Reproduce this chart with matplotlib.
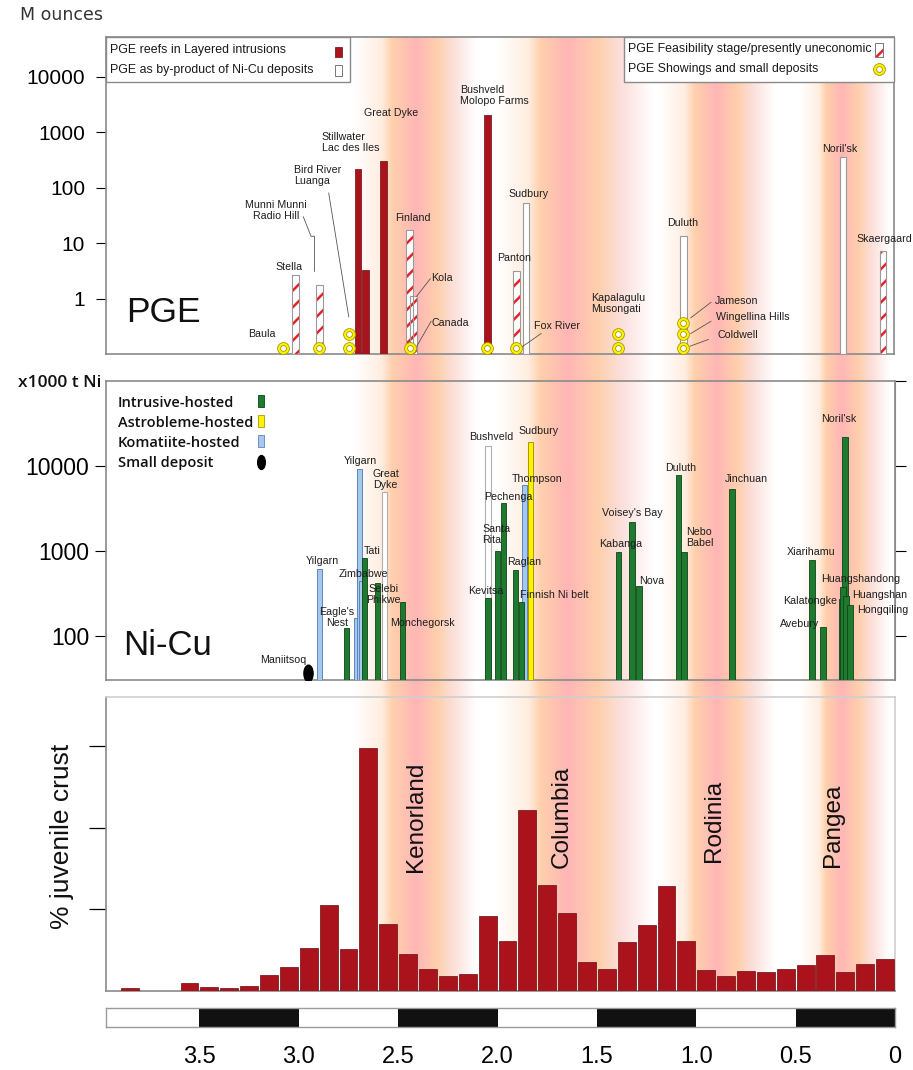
import numpy as np
import matplotlib
matplotlib.use('Agg')
import matplotlib.pyplot as plt
from matplotlib.patches import Rectangle
from matplotlib.lines import Line2D
from matplotlib.path import Path
from matplotlib.transforms import Affine2D

plt.rcParams['font.family'] = ['Liberation Sans', 'DejaVu Sans']
plt.rcParams['hatch.linewidth'] = 1.8

# ---------------- PGE resources, M ounces, age in Ga ----------------
reef_age = [2.700, 2.664, 2.571, 2.048]          # Stillwater, Lac des Iles, Great Dyke, Bushveld
reef_moz = [220, 3.3, 307, 2040]

byprod_age = [1.854, 1.062, 0.257]               # Sudbury, Duluth, Noril'sk
byprod_moz = [54, 13.3, 352]

feas_age = [3.017, 2.895, 2.442, 2.419, 1.903, 0.055]   # Stella, Munni Munni, Finland, Kola, Panton, Skaergaard
feas_moz = [2.7, 1.74, 17, 1.1, 3.1, 7.3]

# showings and small deposits (no tonnage) -> stacked rings
show_age = [3.077, 2.895, 2.747, 2.747, 2.439, 2.048, 1.904, 1.393, 1.393, 1.062, 1.062, 1.062]
show_rank = [0, 0, 0, 1, 0, 0, 0, 0, 1, 0, 1, 2]

pge_labels = [
    ('Baula', 3.113, 0.234, 'right'),
    ('Stella', 3.046, 3.73, 'center'),
    ('Munni Munni\nRadio Hill', 3.113, 39.3, 'center'),
    ('Bird River\nLuanga', 3.021, 164, 'left'),
    ('Stillwater\nLac des Iles', 2.882, 655, 'left'),
    ('Great Dyke', 2.669, 2245, 'left'),
    ('Finland', 2.425, 28, 'center'),
    ('Kola', 2.332, 2.39, 'left'),
    ('Canada', 2.331, 0.37, 'left'),
    ('Bushveld\nMolopo Farms', 2.187, 4585, 'left'),
    ('Panton', 2.0, 5.41, 'left'),
    ('Sudbury', 1.841, 78, 'center'),
    ('Fox River', 1.813, 0.326, 'left'),
    ('Kapalagulu\nMusongati', 1.527, 0.823, 'left'),
    ('Duluth', 1.065, 23.4, 'center'),
    ('Jameson', 0.901, 0.92, 'left'),
    ('Wingellina Hills', 0.895, 0.468, 'left'),
    ('Coldwell', 0.888, 0.216, 'left'),
    ("Noril'sk", 0.272, 498, 'center'),
    ('Skaergaard', 0.190, 11.9, 'left'),
]

pge_leaders = [
    ([2.976, 2.937, 2.920, 2.920], [30, 13.3, 13.3, 3.1]),
    ([2.848, 2.747], [80.3, 0.468]),
    ([2.405, 2.336], [1.1, 2.29]),
    ([2.408, 2.332], [0.131, 0.39]),
    ([1.888, 1.778], [0.124, 0.234]),
    ([1.024, 0.922], [0.449, 0.857]),
    ([1.024, 0.922], [0.234, 0.39]),
    ([1.028, 0.935], [0.138, 0.183]),
]

# ---------------- Ni-Cu resources, x1000 t Ni ----------------
intr_age = [2.759, 2.668, 2.604, 2.478, 2.048, 1.999, 1.969, 1.908, 1.878, 1.390, 1.324, 1.289,
            1.089, 1.062, 0.821, 0.418, 0.363, 0.252, 0.270, 0.262, 0.246, 0.227]
intr_kt = [123, 820, 416, 250, 277, 980, 3700, 590, 250, 960, 2180, 380,
           7900, 960, 5400, 770, 128, 22000, 270, 370, 290, 230]
komat_age = [2.895, 2.711, 2.693, 2.685, 1.863]
komat_kt = [609, 162, 9100, 436, 5900]
astro_age = [1.833]
astro_kt = [19000]
other_age = [2.570, 2.048]          # Great Dyke, Bushveld
other_kt = [4900, 17000]
small_age = [2.954]                 # Maniitsoq
small_kt = [36]

ni_labels = [
    ('Maniitsoq', 3.08, 52, 'center'),
    ('Yilgarn', 2.882, 762, 'center'),
    ("Eagle's\nNest", 2.808, 165, 'center'),
    ('Yilgarn', 2.690, 11460, 'center'),
    ('Great\nDyke', 2.627, 6930, 'left'),
    ('Tati', 2.632, 1000, 'center'),
    ('Zimbabwe', 2.677, 536, 'center'),
    ('Selebi\nPhikwe', 2.573, 307, 'center'),
    ('Monchegorsk', 2.538, 140, 'left'),
    ('Bushveld', 2.034, 21900, 'center'),
    ('Sudbury', 1.793, 25800, 'center'),
    ('Thompson', 1.799, 7030, 'center'),
    ('Pechenga', 1.947, 4310, 'center'),
    ('Santa\nRita', 2.078, 1542, 'left'),
    ('Raglan', 1.868, 743, 'center'),
    ('Kevitsa', 2.061, 338, 'center'),
    ('Finnish Ni belt', 1.888, 303, 'left'),
    ('Kabanga', 1.381, 1208, 'center'),
    ("Voisey's Bay", 1.321, 2800, 'center'),
    ('Nova', 1.287, 443, 'left'),
    ('Duluth', 1.079, 9470, 'center'),
    ('Nebo\nBabel', 1.052, 1422, 'left'),
    ('Jinchuan', 0.750, 7030, 'center'),
    ('Xiarihamu', 0.424, 973, 'center'),
    ('Huangshandong', 0.374, 469, 'left'),
    ('Kalatongke', 0.428, 258, 'center'),
    ('Huangshan', 0.218, 303, 'left'),
    ('Hongqiling', 0.193, 202, 'left'),
    ('Avebury', 0.478, 138, 'center'),
    ("Noril'sk", 0.285, 35700, 'center'),
]

# ---------------- juvenile crust histogram (0.1 Ga bins) ----------------
crust_age = [3.85, 3.75, 3.65, 3.55, 3.45, 3.35, 3.25, 3.15, 3.05, 2.95, 2.85, 2.75, 2.65,
             2.55, 2.45, 2.35, 2.25, 2.15, 2.05, 1.95, 1.85, 1.75, 1.65, 1.55, 1.45, 1.35,
             1.25, 1.15, 1.05, 0.95, 0.85, 0.75, 0.65, 0.55, 0.45, 0.35, 0.25, 0.15, 0.05]
crust_pct = [0.17, 0, 0, 0.47, 0.23, 0.17, 0.31, 0.96, 1.47, 2.61, 5.24, 2.59, 14.85,
             4.08, 2.28, 1.33, 0.92, 1.06, 4.59, 3.06, 11.08, 6.49, 4.77, 1.77, 1.37, 3.0,
             4.04, 6.43, 3.06, 1.29, 0.92, 1.24, 1.16, 1.37, 1.59, 2.2, 1.16, 1.65, 1.94]

supercontinents = ['Kenorland', 'Columbia', 'Rodinia', 'Pangea']
sc_age = [2.408, 1.678, 0.911, 0.314]
sc_text_y = [7.3, 7.5, 7.9, 7.6]

# supercontinent belts behind the panels: peak age and half widths (Ga)
belt_age = [2.41, 1.65, 0.90, 0.27]
belt_left = [0.32, 0.36, 0.29, 0.21]
belt_right = [0.30, 0.43, 0.29, 0.24]

eon_edges = [3.97, 3.5, 3.0, 2.5, 2.0, 1.5, 1.0, 0.5, 0.0]
age_ticks = [3.5, 3.0, 2.5, 2.0, 1.5, 1.0, 0.5, 0.0]
age_ticklabels = ['3.5', '3.0', '2.5', '2.0', '1.5', '1.0', '0.5', '0']

XMAX, XMIN = 3.97, 0.0

RED = '#aa131b'
RED_EDGE = '#6a0b10'
HATCH_RED = '#e8202a'
GREEN = '#1d7a2e'
GREEN_EDGE = '#0d4517'
BLUE = '#a6c8ee'
BLUE_EDGE = '#5d86b8'
YELLOW = '#fff200'
YELLOW_EDGE = '#a89a00'
FRAME = '#8a8a8a'
LABEL_C = '#1e1e1e'

W_PX, H_PX = 913, 1070
fig = plt.figure(figsize=(W_PX / 100, H_PX / 100), dpi=100)


def box(left, top, right, bottom):
    return [left / W_PX, 1 - bottom / H_PX, (right - left) / W_PX, (bottom - top) / H_PX]


def key_rect(x0, y0, x1, y1, **kw):
    # legend swatch placed in pixel units from the top-left corner
    r = Rectangle((x0 / W_PX, 1 - y1 / H_PX), (x1 - x0) / W_PX, (y1 - y0) / H_PX,
                  transform=fig.transFigure, zorder=10, **kw)
    fig.add_artist(r)
    return r


def key_text(x, y, s, **kw):
    fig.text(x / W_PX, 1 - y / H_PX, s, ha='left', va='center', zorder=11, **kw)


def key_marker(x, y, **kw):
    fig.add_artist(Line2D([x / W_PX], [1 - y / H_PX], transform=fig.transFigure,
                          ls='none', zorder=11, **kw))


# --- background belts ---
bg = fig.add_axes(box(106, 37, 895, 991), zorder=0)
ages = np.linspace(XMAX, XMIN, 1500)
stops_t = [-1.0, -0.55, -0.38, 0.0, 0.35, 0.62, 1.0]
stops_rgb = np.array([[255, 255, 255], [255, 237, 224], [255, 208, 172], [255, 182, 182],
                      [255, 207, 172], [251, 223, 218], [255, 255, 255]]) / 255.0
img = np.ones((len(ages), 3))
for c, l, r in zip(belt_age, belt_left, belt_right):
    d = c - ages
    t = np.where(d > 0, d / r, d / l)
    t = np.clip(t, -1, 1)
    col = np.stack([np.interp(t, stops_t, stops_rgb[:, k]) for k in range(3)], axis=1)
    img = np.minimum(img, col)
bg.imshow(img[np.newaxis, :, :], extent=(XMAX, XMIN, 0, 1), aspect='auto',
          interpolation='bilinear')
bg.set_xlim(XMAX, XMIN)
bg.set_ylim(0, 1)
bg.axis('off')

# --- PGE panel ---
ax1 = fig.add_axes(box(106, 37, 894, 354), zorder=2)
ax1.set_facecolor('none')
ax1.set_yscale('log')
PGE_MIN = 0.1
ax1.set_ylim(PGE_MIN, 52500)
ax1.set_xlim(XMAX, XMIN)

bw = 0.034
ax1.bar(reef_age, np.array(reef_moz) - PGE_MIN, bottom=PGE_MIN, width=bw,
        color=RED, edgecolor=RED_EDGE, linewidth=0.5, zorder=3)
ax1.bar(byprod_age, np.array(byprod_moz) - PGE_MIN, bottom=PGE_MIN, width=bw,
        color='white', edgecolor='#9a9a9a', linewidth=0.8, zorder=3)
ax1.bar(feas_age, np.array(feas_moz) - PGE_MIN, bottom=PGE_MIN, width=bw,
        color='white', edgecolor=HATCH_RED, hatch='//', linewidth=0, zorder=3)
ax1.bar(feas_age, np.array(feas_moz) - PGE_MIN, bottom=PGE_MIN, width=bw,
        fill=False, edgecolor='#9a9a9a', linewidth=0.8, zorder=3)

ring_y = [0.128, 0.226, 0.36]
sy = [ring_y[k] for k in show_rank]
ax1.plot(show_age, sy, 'o', ms=8.5, mfc=YELLOW, mec=YELLOW_EDGE, mew=0.6, zorder=5)
ax1.plot(show_age, sy, 'o', ms=4.2, mfc='white', mec=YELLOW_EDGE, mew=0.6, zorder=6)

for xs, ys in pge_leaders:
    ax1.plot(xs, ys, color='#555555', lw=0.6, zorder=4)
for txt, a, v, ha in pge_labels:
    ax1.text(a, v, txt, ha=ha, va='center', fontsize=7.7, color=LABEL_C,
             linespacing=1.15, zorder=7)

ax1.text(0.026, 0.131, 'PGE', transform=ax1.transAxes, fontsize=25.5, va='center',
         color='#111111')

ax1.set_yticks([1, 10, 100, 1000, 10000])
ax1.set_yticklabels(['1', '10', '100', '1000', '10000'])
ax1.yaxis.set_minor_locator(matplotlib.ticker.NullLocator())
ax1.set_xticks([])
ax1.tick_params(axis='y', direction='out', length=7, width=0.8, labelsize=15, pad=8)
for s in ax1.spines.values():
    s.set_color(FRAME)
    s.set_linewidth(1.2)

# PGE keys: two framed boxes along the top edge
leg_kw = dict(fontsize=8.9, color='#1a1a1a')
key_rect(106, 37, 350, 82, facecolor='white', edgecolor=FRAME, linewidth=1.0)
key_text(110, 50, 'PGE reefs in Layered intrusions', **leg_kw)
key_text(110, 70, 'PGE as by-product of Ni-Cu deposits', **leg_kw)
key_rect(335, 46.7, 341.7, 57.3, facecolor=RED, edgecolor=RED_EDGE, linewidth=0.5)
key_rect(335, 65, 341.7, 76, facecolor='white', edgecolor='#777777', linewidth=0.7)

key_rect(624, 37, 894, 82, facecolor='white', edgecolor=FRAME, linewidth=1.0)
key_text(628, 49, 'PGE Feasibility stage/presently uneconomic', **leg_kw)
key_text(628, 69, 'PGE Showings and small deposits', **leg_kw)
key_rect(875, 43.3, 882.7, 56.7, facecolor='white', edgecolor=HATCH_RED, hatch='//', linewidth=0)
key_rect(875, 43.3, 882.7, 56.7, fill=False, edgecolor='#777777', linewidth=0.7)
key_marker(878.5, 69.3, marker='o', ms=8.5, mfc=YELLOW, mec=YELLOW_EDGE, mew=0.6)
key_marker(878.5, 69.3, marker='o', ms=4.2, mfc='white', mec=YELLOW_EDGE, mew=0.6)

# --- Ni-Cu panel ---
ax2 = fig.add_axes(box(106, 381, 895, 680), zorder=2)
ax2.set_facecolor('none')
ax2.set_yscale('log')
NI_MIN = 30
ax2.set_ylim(NI_MIN, 1e5)
ax2.set_xlim(XMAX, XMIN)

nw = 0.027
ax2.bar(other_age, np.array(other_kt) - NI_MIN, bottom=NI_MIN, width=nw,
        color='white', edgecolor='#b0b0b0', linewidth=0.8, zorder=3)
ax2.bar(komat_age, np.array(komat_kt) - NI_MIN, bottom=NI_MIN, width=nw,
        color=BLUE, edgecolor=BLUE_EDGE, linewidth=0.7, zorder=3)
ax2.bar(astro_age, np.array(astro_kt) - NI_MIN, bottom=NI_MIN, width=nw,
        color=YELLOW, edgecolor=YELLOW_EDGE, linewidth=0.7, zorder=3)
ax2.bar(intr_age, np.array(intr_kt) - NI_MIN, bottom=NI_MIN, width=nw,
        color=GREEN, edgecolor=GREEN_EDGE, linewidth=0.6, zorder=3)

ellipse = Path.unit_circle().transformed(Affine2D().scale(0.55, 1.0))
ax2.plot(small_age, small_kt, ls='none', marker=ellipse, ms=12, color='black', zorder=4)

for txt, a, v, ha in ni_labels:
    ax2.text(a, v, txt, ha=ha, va='center', fontsize=7.7, color=LABEL_C,
             linespacing=1.1, zorder=7)

ax2.text(0.0215, 0.115, 'Ni-Cu', transform=ax2.transAxes, fontsize=25, va='center',
         color='#111111')

ax2.set_yticks([100, 1000, 10000])
ax2.set_yticklabels(['100', '1000', '10000'])
ax2.yaxis.set_minor_locator(matplotlib.ticker.NullLocator())
ax2.set_xticks([])
ax2.tick_params(axis='y', direction='out', length=8, width=0.8, labelsize=16.5, pad=4)
sec = ax2.secondary_yaxis('right')
sec.set_yticks([100, 1000, 10000, 100000])
sec.set_yticklabels([])
sec.yaxis.set_minor_locator(matplotlib.ticker.NullLocator())
sec.tick_params(direction='out', length=8, width=0.8)
sec.spines['right'].set_color(FRAME)
for s in ax2.spines.values():
    s.set_color(FRAME)
    s.set_linewidth(1.2)

# Ni-Cu keys (no frame)
ni_key_kw = dict(fontsize=10.5, color='#111111', family=['Open Sans', 'DejaVu Sans'],
                 weight='semibold')
key_text(118, 403, 'Intrusive-hosted', **ni_key_kw)
key_text(118, 423, 'Astrobleme-hosted', **ni_key_kw)
key_text(118, 443, 'Komatiite-hosted', **ni_key_kw)
key_text(118, 463, 'Small deposit', **ni_key_kw)
key_rect(258.3, 395, 264.3, 407.3, facecolor=GREEN, edgecolor=GREEN_EDGE, linewidth=0.6)
key_rect(258.3, 415, 264.3, 427.3, facecolor=YELLOW, edgecolor=YELLOW_EDGE, linewidth=0.6)
key_rect(258.3, 435, 264.3, 446.7, facecolor=BLUE, edgecolor=BLUE_EDGE, linewidth=0.6)
key_marker(261.3, 461.7, marker=ellipse, ms=10, color='black')

# --- juvenile crust panel ---
ax3 = fig.add_axes(box(106, 697, 895, 991), zorder=2)
ax3.set_facecolor('none')
ax3.bar(crust_age, crust_pct, width=0.09, color=RED, edgecolor=RED_EDGE, linewidth=0.5, zorder=3)
ax3.set_xlim(XMAX, XMIN)
ax3.set_ylim(0, 18)
ax3.set_yticks([5, 10, 15])
ax3.set_yticklabels([])
ax3.set_xticks([])
ax3.tick_params(axis='y', direction='out', length=12.5, width=0.9)
ax3.spines['left'].set_color(FRAME)
ax3.spines['bottom'].set_color(FRAME)
ax3.spines['top'].set_color('#cfcfcf')
ax3.spines['right'].set_color('#cfcfcf')
for s in ax3.spines.values():
    s.set_linewidth(1.2)

for name, a, yv in zip(supercontinents, sc_age, sc_text_y):
    ax3.text(a, yv, name, rotation=90, ha='center', va='bottom', fontsize=17.5,
             color='#111111', zorder=6)

# --- geological time bar ---
ax4 = fig.add_axes(box(106, 1008, 895, 1027), zorder=2)
ax4.set_xlim(XMAX, XMIN)
ax4.set_ylim(0, 1)
for i in range(len(eon_edges) - 1):
    ax4.axvspan(eon_edges[i], eon_edges[i + 1],
                color='white' if i % 2 == 0 else '#111111', lw=0)
ax4.set_yticks([])
ax4.set_xticks(age_ticks)
ax4.set_xticklabels(age_ticklabels)
ax4.tick_params(axis='x', length=0, pad=14, labelsize=17)
for s in ax4.spines.values():
    s.set_color('#999999')
    s.set_linewidth(1.0)

fig.text(20 / W_PX, 1 - 15 / H_PX, 'M ounces', fontsize=12.5, va='center', ha='left',
         color='#333333', family='DejaVu Sans')
fig.text(60 / W_PX, 1 - 383 / H_PX, 'x1000 t Ni', fontsize=12.5, va='center', ha='center',
         color='#111111', family=['Open Sans', 'DejaVu Sans'], weight='semibold')
fig.text(62 / W_PX, 1 - 836 / H_PX, '% juvenile crust', fontsize=19, rotation=90,
         va='center', ha='center', color='#111111')

fig.savefig('out.png', dpi=100)
